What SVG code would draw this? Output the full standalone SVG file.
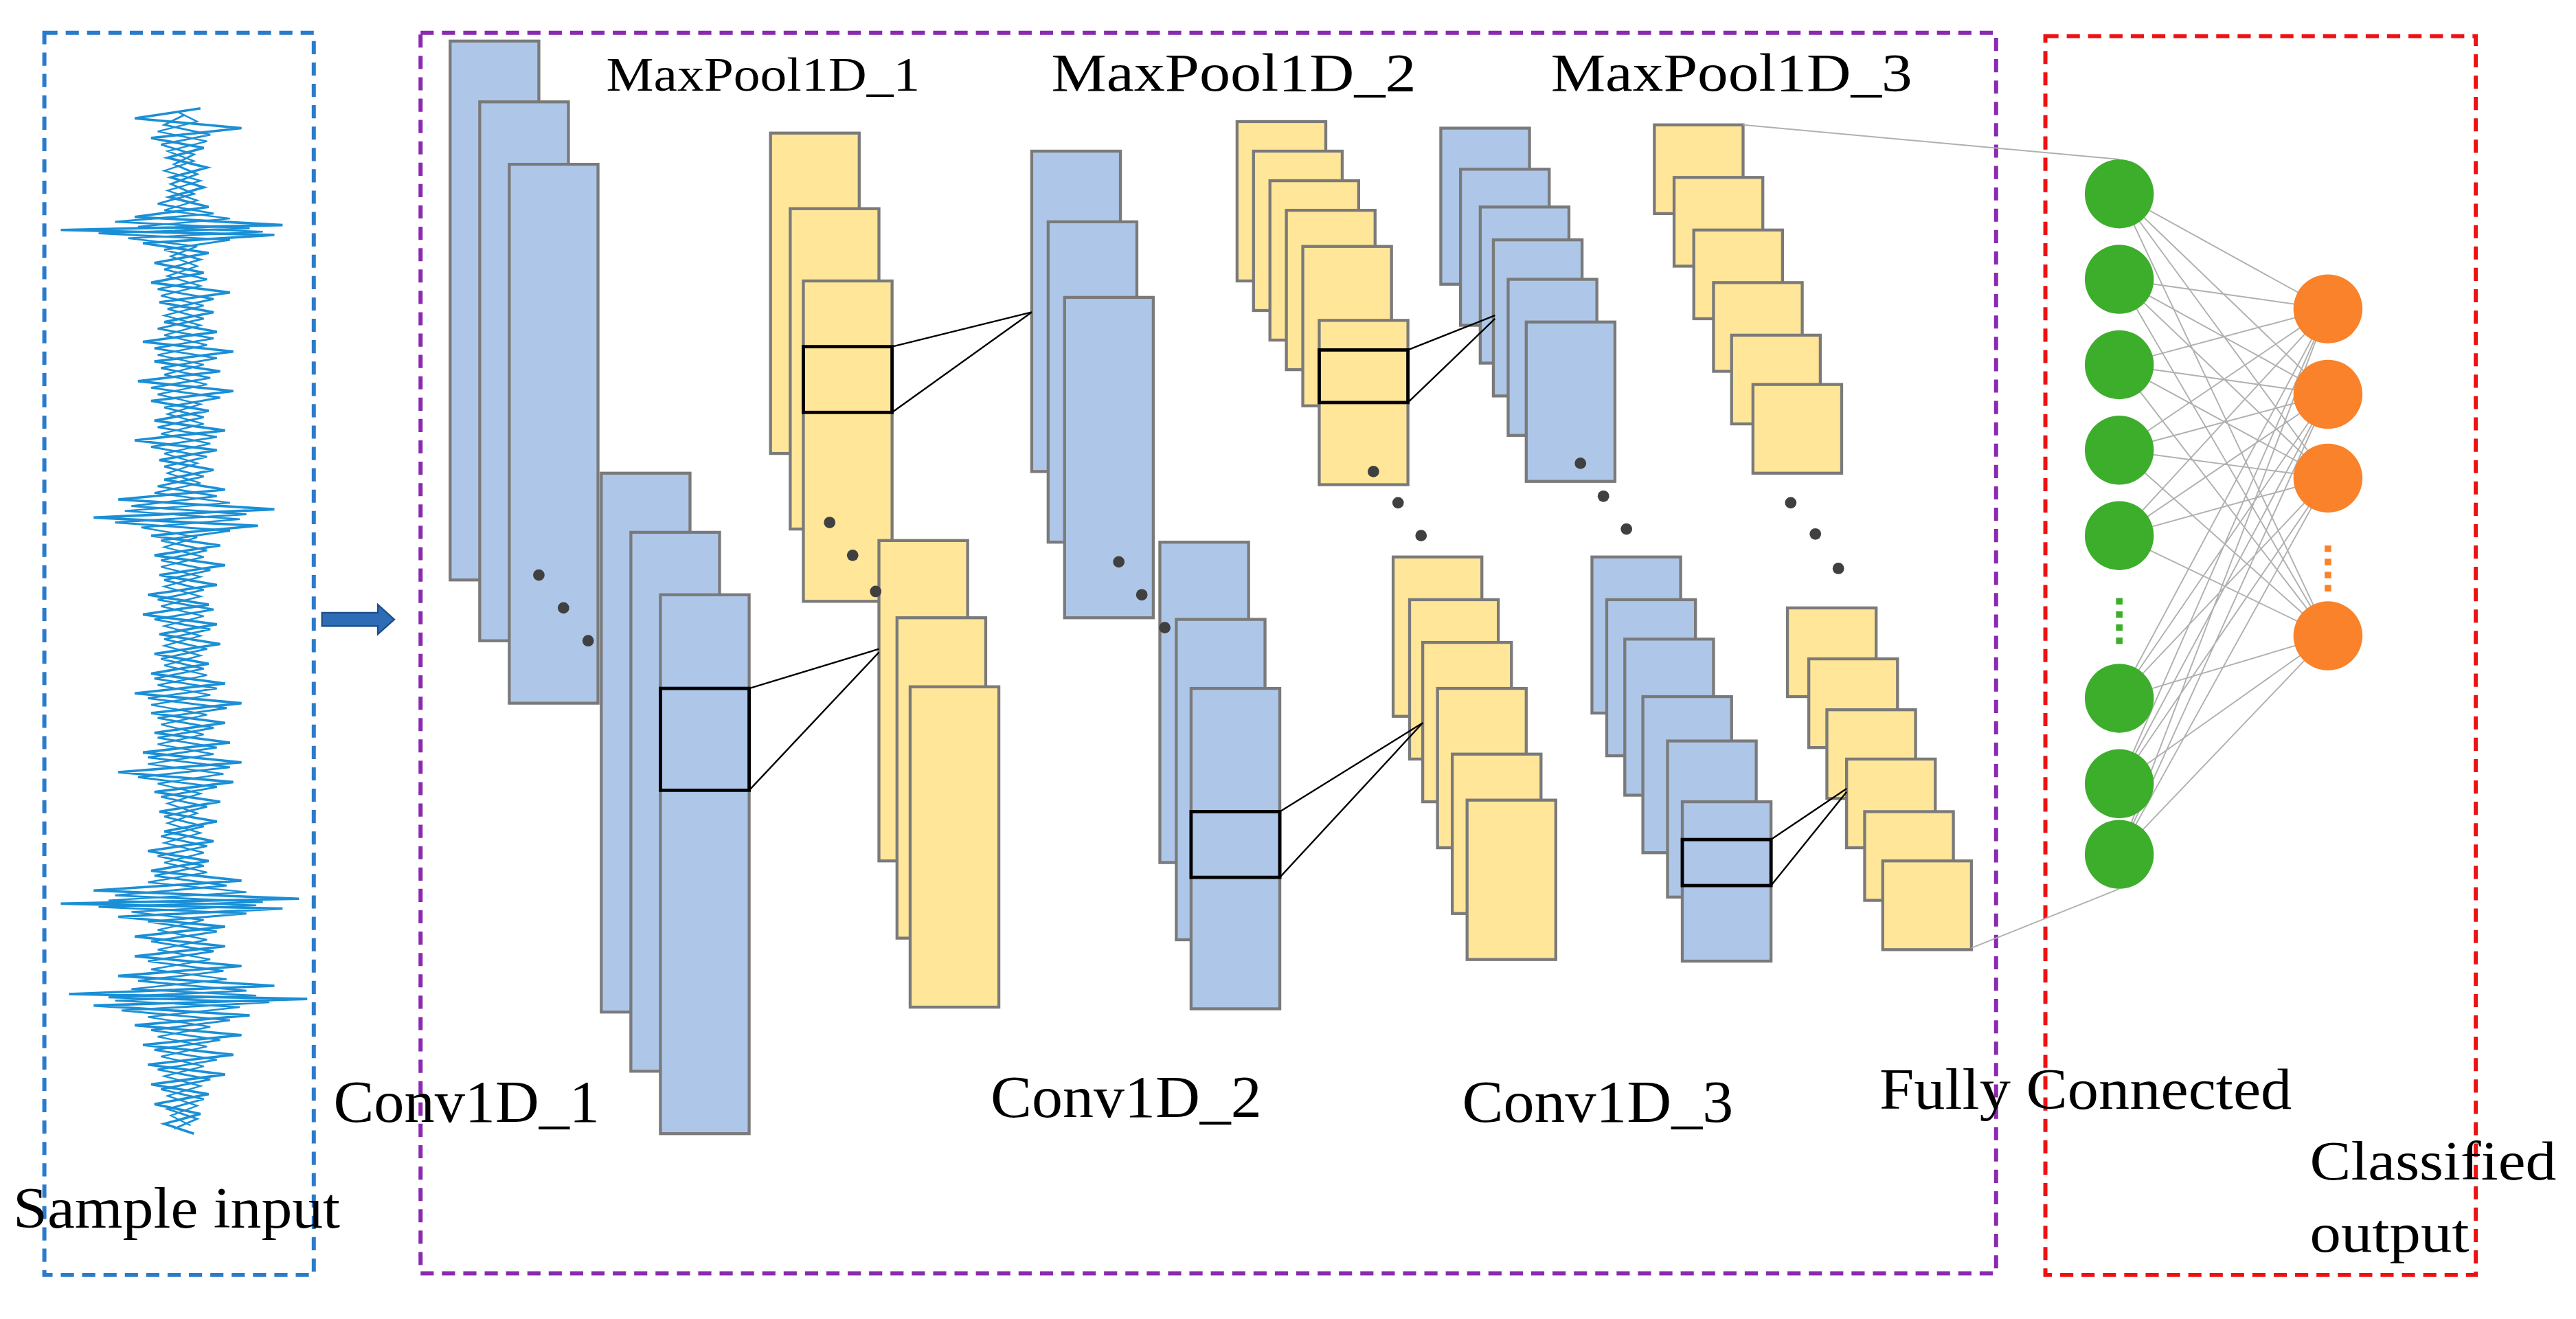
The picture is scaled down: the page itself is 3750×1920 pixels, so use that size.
<svg xmlns="http://www.w3.org/2000/svg" width="3750" height="1920" viewBox="0 0 3750 1920">
<style>
.b{fill:#aec7e9;stroke:#7a7a7a;stroke-width:1.8}
.y{fill:#ffe699;stroke:#7a7a7a;stroke-width:1.8}
.k{fill:none;stroke:#000;stroke-width:2}
.l{stroke:#000;stroke-width:1}
.d{fill:#404040}
.t{font-family:"Liberation Serif",serif;fill:#000}
.fc{stroke:#b0b0b0;stroke-width:0.8}
.g{fill:#3dae2b}
.o{fill:#f9822a}
</style>
<rect width="3750" height="1920" fill="#fff"/>
<g transform="scale(2.3916)">
<g id="frames" fill="none" stroke-width="2.5" stroke-dasharray="8,5">
<rect x="27" y="20" width="164" height="756" stroke="#2b7bcb"/>
<rect x="256" y="20" width="959" height="755" stroke="#8a2ab0"/>
<rect x="1245" y="22" width="262" height="754" stroke="#f01010"/>
</g>
<g id="input">
<polyline fill="none" stroke="#1a8fd6" stroke-width="1.5" points="122,66 82,72 147,78 92,84 124,90 102,96 126,102 104,108 124,114 103,120 127,126 82,132 172,137 37,140 167,143 87,148 127,154 94,160 124,166 92,172 140,178 97,184 130,190 100,196 132,202 87,208 142,214 94,220 134,226 84,232 142,238 92,244 127,250 94,256 137,262 82,268 132,274 97,280 130,286 100,292 137,298 72,304 167,310 57,315 157,320 92,326 134,332 94,338 137,344 97,350 132,356 90,362 127,368 87,374 132,380 97,386 134,392 94,398 127,404 92,410 137,416 82,422 147,428 92,434 137,440 94,446 140,452 87,458 147,464 72,470 142,476 94,482 134,488 97,494 132,500 100,506 130,512 90,518 127,524 92,530 147,536 57,542 182,547 37,550 172,553 72,558 137,564 82,570 137,576 82,582 147,588 72,594 167,600 42,605 187,608 57,612 152,618 82,624 147,630 87,636 142,642 90,648 137,654 92,660 127,666 94,672 122,678 100,684 118,690"/>
<polyline fill="none" stroke="#1a8fd6" stroke-width="1.2" points="112,70 100,76 128,82 98,88 118,94 106,100 120,106 104,112 118,118 96,124 130,130 70,135 152,139 60,142 140,146 100,152 122,158 100,164 126,170 96,176 130,182 102,188 124,194 96,200 130,206 94,212 132,218 98,224 128,230 92,236 134,242 100,248 124,254 96,260 132,266 92,272 126,278 100,284 124,290 96,296 132,302 80,308 150,313 70,318 140,323 98,329 126,335 98,341 128,347 100,353 124,359 96,365 130,371 94,377 128,383 100,389 126,395 98,401 124,407 94,413 132,419 90,425 138,431 96,437 130,443 96,449 132,455 90,461 140,467 84,473 132,479 98,485 126,491 100,497 124,503 98,509 126,515 96,521 124,527 94,533 138,539 70,545 160,549 60,552 150,556 90,561 132,567 92,573 130,579 90,585 136,591 84,597 150,603 66,607 164,610 74,615 140,621 92,627 134,633 94,639 132,645 96,651 128,657 98,663 124,669 102,675 120,681 106,687"/>
<polyline fill="none" stroke="#1a8fd6" stroke-width="1" points="108,68 120,74 96,80 126,86 102,92 118,98 100,104 122,110 102,116 120,122 100,128 140,133 84,138 160,141 78,145 120,150 104,156 120,162 102,168 122,174 98,180 124,186 100,192 122,198 100,204 126,210 96,216 124,222 100,228 126,234 96,240 122,246 102,252 124,258 98,264 128,270 100,276 120,282 102,288 122,294 94,300 140,306 76,311 146,316 86,321 120,327 100,333 124,339 98,345 122,351 100,357 122,363 98,369 124,375 100,381 122,387 100,393 122,399 100,405 126,411 96,417 128,423 92,429 126,435 98,441 124,447 96,453 130,459 90,465 136,471 96,477 122,483 102,489 120,495 102,501 122,507 100,513 124,519 100,525 126,531 90,537 150,543 66,548 156,551 80,555 124,560 96,566 126,572 96,578 128,584 92,590 138,596 80,602 156,606 70,609 146,613 90,619 128,625 96,631 126,637 98,643 124,649 100,655 122,661 102,667 120,673 104,679 116,685"/>
</g>
<polygon id="arrow" points="196,373 230,373 230,368 240,377 230,386 230,381 196,381" fill="#2e6db5" stroke="#1f4f8a" stroke-width="1"/>
<g id="conv1">
<rect class="b" x="274" y="25" width="54" height="328"/>
<rect class="b" x="292" y="62" width="54" height="328"/>
<rect class="b" x="310" y="100" width="54" height="328"/>
<circle class="d" cx="328" cy="350" r="3.5"/><circle class="d" cx="343" cy="370" r="3.5"/><circle class="d" cx="358" cy="390" r="3.5"/>
<rect class="b" x="366" y="288" width="54" height="328"/>
<rect class="b" x="384" y="324" width="54" height="328"/>
<rect class="b" x="402" y="362" width="54" height="328"/>
<rect class="k" x="402" y="419" width="54" height="62"/>
</g>
<g id="pool1">
<rect class="y" x="469" y="81" width="54" height="195"/>
<rect class="y" x="481" y="127" width="54" height="195"/>
<rect class="y" x="489" y="171" width="54" height="195"/>
<rect class="k" x="489" y="211" width="54" height="40"/>
<rect class="y" x="535" y="329" width="54" height="195"/>
<rect class="y" x="546" y="376" width="54" height="195"/>
<rect class="y" x="554" y="418" width="54" height="195"/>
<circle class="d" cx="505" cy="318" r="3.5"/><circle class="d" cx="519" cy="338" r="3.5"/><circle class="d" cx="533" cy="360" r="3.5"/>
</g>
<g id="conv2">
<rect class="b" x="628" y="92" width="54" height="195"/>
<rect class="b" x="638" y="135" width="54" height="195"/>
<rect class="b" x="648" y="181" width="54" height="195"/>
<rect class="b" x="706" y="330" width="54" height="195"/>
<rect class="b" x="716" y="377" width="54" height="195"/>
<rect class="b" x="725" y="419" width="54" height="195"/>
<rect class="k" x="725" y="494" width="54" height="40"/>
<circle class="d" cx="681" cy="342" r="3.5"/><circle class="d" cx="695" cy="362" r="3.5"/><circle class="d" cx="709" cy="382" r="3.5"/>
</g>
<g id="pool2">
<rect class="y" x="753" y="74" width="54" height="97"/>
<rect class="y" x="763" y="92" width="54" height="97"/>
<rect class="y" x="773" y="110" width="54" height="97"/>
<rect class="y" x="783" y="128" width="54" height="97"/>
<rect class="y" x="793" y="150" width="54" height="97"/>
<rect class="y" x="803" y="195" width="54" height="100"/>
<rect class="k" x="803" y="213" width="54" height="32"/>
<circle class="d" cx="836" cy="287" r="3.5"/><circle class="d" cx="851" cy="306" r="3.5"/><circle class="d" cx="865" cy="326" r="3.5"/>
<rect class="y" x="848" y="339" width="54" height="97"/>
<rect class="y" x="858" y="365" width="54" height="97"/>
<rect class="y" x="866" y="391" width="54" height="97"/>
<rect class="y" x="875" y="419" width="54" height="97"/>
<rect class="y" x="884" y="459" width="54" height="97"/>
<rect class="y" x="893" y="487" width="54" height="97"/>
</g>
<g id="conv3">
<rect class="b" x="877" y="78" width="54" height="95"/>
<rect class="b" x="889" y="103" width="54" height="95"/>
<rect class="b" x="901" y="126" width="54" height="95"/>
<rect class="b" x="909" y="146" width="54" height="95"/>
<rect class="b" x="918" y="170" width="54" height="95"/>
<rect class="b" x="929" y="196" width="54" height="97"/>
<circle class="d" cx="962" cy="282" r="3.5"/><circle class="d" cx="976" cy="302" r="3.5"/><circle class="d" cx="990" cy="322" r="3.5"/>
<rect class="b" x="969" y="339" width="54" height="95"/>
<rect class="b" x="978" y="365" width="54" height="95"/>
<rect class="b" x="989" y="389" width="54" height="95"/>
<rect class="b" x="1000" y="424" width="54" height="95"/>
<rect class="b" x="1015" y="451" width="54" height="95"/>
<rect class="b" x="1024" y="488" width="54" height="97"/>
<rect class="k" x="1024" y="511" width="54" height="28"/>
</g>
<g id="pool3">
<rect class="y" x="1007" y="76" width="54" height="54"/>
<rect class="y" x="1019" y="108" width="54" height="54"/>
<rect class="y" x="1031" y="140" width="54" height="54"/>
<rect class="y" x="1043" y="172" width="54" height="54"/>
<rect class="y" x="1054" y="204" width="54" height="54"/>
<rect class="y" x="1067" y="234" width="54" height="54"/>
<circle class="d" cx="1090" cy="306" r="3.5"/><circle class="d" cx="1105" cy="325" r="3.5"/><circle class="d" cx="1119" cy="346" r="3.5"/>
<rect class="y" x="1088" y="370" width="54" height="54"/>
<rect class="y" x="1101" y="401" width="54" height="54"/>
<rect class="y" x="1112" y="432" width="54" height="54"/>
<rect class="y" x="1124" y="462" width="54" height="54"/>
<rect class="y" x="1135" y="494" width="54" height="54"/>
<rect class="y" x="1146" y="524" width="54" height="54"/>
</g>
<g id="connectors">
<line class="l" x1="456" y1="419" x2="535" y2="395"/><line class="l" x1="456" y1="481" x2="535" y2="397"/>
<line class="l" x1="543" y1="211" x2="628" y2="190"/><line class="l" x1="543" y1="251" x2="628" y2="190"/>
<line class="l" x1="779" y1="494" x2="866" y2="440"/><line class="l" x1="779" y1="534" x2="866" y2="440"/>
<line class="l" x1="857" y1="213" x2="910" y2="192"/><line class="l" x1="857" y1="245" x2="910" y2="194"/>
<line class="l" x1="1078" y1="511" x2="1124" y2="480"/><line class="l" x1="1078" y1="539" x2="1124" y2="482"/>
<line class="fc" x1="1061" y1="76" x2="1290" y2="97"/><line class="fc" x1="1200" y1="577" x2="1290" y2="541"/>
<path class="fc" fill="none" d="M1290,118L1417,188M1290,118L1417,240M1290,118L1417,291M1290,118L1417,387M1290,170L1417,188M1290,170L1417,240M1290,170L1417,291M1290,170L1417,387M1290,222L1417,188M1290,222L1417,240M1290,222L1417,291M1290,222L1417,387M1290,274L1417,188M1290,274L1417,240M1290,274L1417,291M1290,274L1417,387M1290,326L1417,188M1290,326L1417,240M1290,326L1417,291M1290,326L1417,387M1290,425L1417,188M1290,425L1417,240M1290,425L1417,291M1290,425L1417,387M1290,477L1417,188M1290,477L1417,240M1290,477L1417,291M1290,477L1417,387M1290,520L1417,188M1290,520L1417,240M1290,520L1417,291M1290,520L1417,387"/>
</g>
<g id="fc_nodes">
<circle class="g" cx="1290" cy="118" r="21"/><circle class="g" cx="1290" cy="170" r="21"/><circle class="g" cx="1290" cy="222" r="21"/><circle class="g" cx="1290" cy="274" r="21"/><circle class="g" cx="1290" cy="326" r="21"/>
<line x1="1290" y1="364" x2="1290" y2="392" stroke="#3dae2b" stroke-width="4" stroke-dasharray="4,4"/>
<circle class="g" cx="1290" cy="425" r="21"/><circle class="g" cx="1290" cy="477" r="21"/><circle class="g" cx="1290" cy="520" r="21"/>
</g>
<g id="out_nodes">
<circle class="o" cx="1417" cy="188" r="21"/><circle class="o" cx="1417" cy="240" r="21"/><circle class="o" cx="1417" cy="291" r="21"/>
<line x1="1417" y1="332" x2="1417" y2="360" stroke="#f9822a" stroke-width="4" stroke-dasharray="4,4"/>
<circle class="o" cx="1417" cy="387" r="21"/>
</g>
<g id="labels">
<text class="t" x="369" y="55" font-size="29" textLength="191" lengthAdjust="spacingAndGlyphs">MaxPool1D_1</text>
<text class="t" x="640" y="55" font-size="33" textLength="222" lengthAdjust="spacingAndGlyphs">MaxPool1D_2</text>
<text class="t" x="944" y="55" font-size="33" textLength="220" lengthAdjust="spacingAndGlyphs">MaxPool1D_3</text>
<text class="t" x="203" y="683" font-size="36" textLength="162" lengthAdjust="spacingAndGlyphs">Conv1D_1</text>
<text class="t" x="603" y="680" font-size="36" textLength="165" lengthAdjust="spacingAndGlyphs">Conv1D_2</text>
<text class="t" x="890" y="683" font-size="36" textLength="165" lengthAdjust="spacingAndGlyphs">Conv1D_3</text>
<text class="t" x="1144" y="675" font-size="35" textLength="251" lengthAdjust="spacingAndGlyphs">Fully Connected</text>
<text class="t" x="1406" y="718" font-size="34" textLength="150" lengthAdjust="spacingAndGlyphs">Classified</text>
<text class="t" x="1406" y="762" font-size="34" textLength="97" lengthAdjust="spacingAndGlyphs">output</text>
<text class="t" x="8" y="747" font-size="35" textLength="199" lengthAdjust="spacingAndGlyphs">Sample input</text>
</g>
</g>
</svg>
